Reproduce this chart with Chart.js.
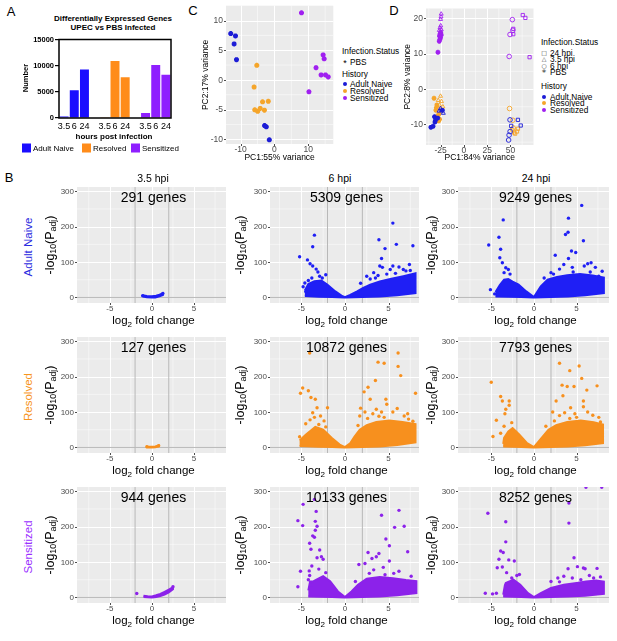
<!DOCTYPE html>
<html>
<head>
<meta charset="utf-8">
<script src="https://cdn.jsdelivr.net/npm/chart.js@4.4.1/dist/chart.umd.min.js"></script>
<style>
body { margin: 0; width: 617px; height: 641px; background: #fff; position: relative; overflow: hidden; font-family: "Liberation Sans", Arial, sans-serif; }
canvas { position: absolute; }
.t { position: absolute; white-space: nowrap; color: #000; line-height: 1; }
.c { transform: translate(-50%, -50%); }
.l { transform: translate(0, -50%); }
.r { transform: translate(-50%, -50%) rotate(-90deg); }
sub { font-size: 70%; vertical-align: -0.3em; line-height: 0; }
</style>
</head>
<body>
<script>
// ---------- data ----------
const hours = ['3.5', '6', '24'];
const groups = ['Adult Naive', 'Resolved', 'Sensitized'];
const naiveDEG = [291, 5309, 9249];
const resolvedDEG = [127, 10872, 7793];
const sensitizedDEG = [944, 10133, 8252];
const degTicks = [0, 5000, 10000, 15000];

// PCA of PBS samples (panel C)
const pbsNaivePC = [[-12.9, 7.8], [-11.5, 7.4], [-11.9, 6.05], [-11.2, 3.4], [-2.9, -7.7], [-2.4, -7.9], [-1.5, -10.1]];
const pbsResolvedPC = [[-5.2, 2.45], [-6.0, -1.2], [-3.5, -3.7], [-1.8, -3.6], [-5.8, -5.05], [-4.95, -5.3], [-4.2, -4.8], [-2.95, -5.1]];
const pbsSensitizedPC = [[8.0, 11.3], [14.4, 4.2], [14.7, 3.55], [12.3, 2.05], [13.8, 0.83], [15.1, 0.83], [15.9, 0.5], [10.2, -2.0]];
const cTicksX = [-10, 0, 10], cTicksY = [-10, -5, 0, 5, 10];

// PCA of all samples (panel D)
const naivePBS = [[-35.4, -10.8], [-33, -10.5], [-31, -9.3], [-30.5, -8.8], [-31.5, -7.8], [-28, -8.2], [-23, -6]];
const naive35 = [[-24, -6], [-22, -6.8], [-26.5, -6.2], [-25, -5.5]];
const naive6 = [[49.5, -8.7], [49.6, -12], [48.5, -13], [48, -14.4]];
const naive24 = [[58, -8.7], [61, -10.3], [50.8, -10.4]];
const resolvedPBS = [[-32, -2.6], [-29, -4.5], [-28, -7.5], [-26, -8.5], [-30, -6], [-27, -9], [-29.5, -5.3], [-26.5, -7]];
const resolved35 = [[-25, -2], [-24, -3.5], [-26, -4.5], [-22.5, -5], [-27, -5.5], [-24, -6.2], [-27.5, -3.2]];
const resolved6 = [[49, -5.5], [52.5, -8.8], [53, -11]];
const resolved24 = [[52, -11.5], [55, -12.6], [57, -12], [54, -12.3], [58, -11.2]];
const sensitizedPBS = [[-24.8, 16.0], [-25.5, 15.6], [-24.2, 15.3], [-26.2, 15.0], [-25, 14.5], [-25.8, 14.0], [-26.4, 13.5], [-27.8, 10.4]];
const sensitized35 = [[-24.3, 21.2], [-24.5, 20.4], [-25, 19.7], [-24.8, 17.9], [-25.6, 17.3], [-24.2, 16.8], [-26.3, 16.6]];
const sensitized6 = [[52, 19.6], [49.5, 15.4], [52.5, 16.6], [48.6, 9.2]];
const sensitized24 = [[63.2, 20.9], [66, 20.1], [53, 17.0], [53, 15.5], [70.5, 9.0]];
const dTicksX = [-25, 0, 25, 50], dTicksY = [-10, 0, 10, 20];

// volcano plots: dense cloud outline (top edge then bottom edge) + scattered genes
const volTicksX = [-5, 0, 5], volTicksY = [0, 100, 200, 300];
const foldCut = [-2, 2];
const naive35Cloud = [[-1.1, 6], [-0.6, 4], [0, 3.5], [0.5, 5], [0.9, 8], [1.3, 12], [1.3, 7], [0.9, 3], [0.4, 0], [0, 0], [-0.6, 0.5], [-1.1, 2.5]];
const naive35Out = [[1.3, 11], [-1.1, 5]];
const naive6Cloud = [[-4.6, 20], [-4.2, 38], [-3.5, 46], [-2.7, 48], [-2, 36], [-1.1, 17], [-0.4, 5], [0, 1], [0.6, 7], [1.4, 17], [2.1, 27], [2.9, 36], [4, 45], [5.2, 52], [6.7, 60], [8.1, 68], [8.1, 12], [6, 6], [4, 3], [2, 1], [0, 0], [-1.5, 1], [-3, 2], [-4.6, 4]];
const naive6Out = [[-5.2, 115], [-3.5, 176], [-3.7, 143], [-4.3, 106], [-4.0, 95], [-3.7, 89], [-3.3, 80], [-3.1, 72], [-4.6, 41], [-4.5, 17], [-4.8, 30], [-2.6, 55], [-2.2, 64], [-2.9, 60], [3.9, 163], [5.5, 210], [4.6, 138], [5.9, 150], [7.8, 146], [4.2, 110], [4, 89], [4.3, 85], [5.5, 89], [6.7, 79], [7.4, 93], [2.5, 60], [3.3, 70], [5.2, 79], [6.2, 86], [7, 75], [3.8, 62], [4.8, 66], [1.8, 40], [2.9, 52], [-3.8, 55], [-4.2, 48], [3.5, 55], [5.8, 68], [7.5, 76]];
const naive24Cloud = [[-4.5, 15], [-4, 35], [-3.5, 50], [-3, 52], [-2.5, 45], [-1.8, 36], [-0.9, 17], [0, 1], [0.8, 31], [1.6, 50], [2.7, 58], [3.9, 63], [5.4, 66], [6.9, 62], [8.2, 56], [8.2, 12], [6, 6], [4, 3], [2, 1], [0, 0], [-1.5, 1], [-3, 2], [-4.5, 3]];
const naive24Out = [[-5.3, 148], [-5.1, 22], [-4.1, 170], [-3.9, 136], [-3.6, 219], [-4, 112], [-3.7, 98], [-3.3, 84], [-3, 79], [-3.5, 70], [-2.8, 66], [-4.6, 10], [4.05, 224], [4, 184], [3.7, 178], [5.6, 260], [5.8, 160], [4.4, 131], [4.9, 127], [2.5, 119], [4.05, 110], [6.7, 98], [8, 74], [3.5, 93], [5.9, 89], [7.2, 85], [6.3, 95], [3, 80], [4.5, 85], [2, 70], [7.6, 60], [1.2, 55], [2.3, 66], [4.6, 72], [6.6, 72]];
const resolved35Cloud = [[-0.7, 3], [-0.3, 2], [0, 2], [0.4, 3], [0.8, 6], [0.8, 3], [0.4, 0.5], [0, 0], [-0.4, 0], [-0.7, 1]];
const resolved35Out = [[0.8, 5], [-0.6, 2]];
const resolved6Cloud = [[-5.2, 20], [-4.5, 36], [-3.4, 58], [-2.5, 50], [-1.5, 27], [-0.6, 8], [0, 1], [0.6, 12], [1.1, 31], [1.7, 50], [2.5, 63], [3.6, 72], [5.1, 76], [6.6, 72], [8.1, 66], [8.1, 14], [6, 7], [4, 3], [2, 1], [0, 0], [-1.5, 1], [-3, 2], [-5.2, 4]];
const resolved6Out = [[-4.05, 267], [-4.85, 168], [-5.1, 153], [-4.2, 160], [-3.9, 141], [-3.4, 136], [-3.2, 112], [-3.7, 98], [-2, 112], [-5.2, 30], [-4.5, 67], [-2.8, 89], [-3.5, 85], [-4, 78], [-2.4, 75], [3.8, 241], [4.5, 238], [6.1, 267], [6.4, 203], [6.1, 229], [3.5, 189], [2.65, 170], [2.2, 157], [2.9, 136], [4.7, 136], [8.1, 153], [3.6, 108], [4.8, 122], [1.7, 89], [6.8, 89], [7.8, 74], [2.3, 100], [3.2, 95], [4.2, 100], [5.5, 100], [6, 110], [7.2, 95], [2.6, 82], [3.9, 88], [1.8, 111], [-3, 65], [-2.2, 58], [1.5, 62], [4.5, 85], [7.3, 80]];
const resolved24Cloud = [[-3.6, 10], [-3.5, 27], [-3, 45], [-2.5, 55], [-1.7, 36], [-0.8, 12], [0, 1], [0.9, 27], [1.7, 50], [2.6, 63], [3.9, 72], [5.5, 76], [7, 71], [8.1, 65], [8.1, 12], [6, 6], [4, 3], [2, 1], [0, 0], [-1.5, 1], [-3.6, 3]];
const resolved24Out = [[-5, 184], [-3.9, 144], [-3.7, 131], [-2.9, 131], [-2.9, 119], [-3.3, 108], [-3.4, 95], [-4.4, 77], [-4.8, 31], [-3.5, 60], [-2.6, 70], [-3.9, 40], [3, 238], [4.2, 217], [5.3, 230], [5.6, 195], [6.2, 162], [7.4, 174], [3.3, 176], [3.9, 172], [4.7, 172], [3.4, 146], [2.6, 131], [5.8, 131], [5.8, 115], [4.3, 112], [6.9, 91], [3.6, 98], [2.2, 100], [3, 90], [4.8, 95], [6.3, 100], [7.6, 85], [5, 85], [1.4, 60], [2.4, 75], [4.2, 82], [7.8, 72]];
const sensitized35Cloud = [[-1, 5], [-0.5, 3.5], [0, 3], [0.5, 6], [1, 10], [1.5, 16], [2, 22], [2.5, 29], [2.5, 23], [2, 14], [1.5, 8], [1, 4], [0.5, 1], [0, 0], [-0.5, 0.5], [-1, 1.5]];
const sensitized35Out = [[-1.8, 11], [2.5, 30]];
const sensitized6Cloud = [[-4.2, 20], [-4, 45], [-3.6, 46], [-2.5, 60], [-1.7, 46], [-0.8, 17], [0, 1], [0.75, 17], [1.5, 36], [2.5, 53], [4, 58], [5.5, 54], [7, 49], [8.2, 46], [8.2, 12], [6, 6], [4, 3], [2, 1], [0, 0], [-1.5, 1], [-3, 2], [-4.2, 3]];
const sensitized6Out = [[-4.8, 263], [-5.4, 217], [-4.85, 203], [-3.5, 277], [-3.3, 243], [-3.4, 215], [-3.2, 201], [-3.4, 190], [-3.7, 174], [-3.5, 170], [-4.05, 153], [-3.9, 136], [-2.9, 134], [-2.7, 115], [-2.5, 108], [-3.2, 112], [-3.8, 89], [-4.05, 62], [-5.1, 74], [-5.4, 30], [-4.1, 75], [-3, 80], [-2.2, 70], [4.2, 232], [6.2, 246], [5.7, 198], [6.8, 201], [4.7, 165], [5.1, 146], [7.2, 129], [3.9, 124], [3.6, 115], [2.65, 127], [3.1, 110], [5.1, 103], [1.6, 93], [2.3, 96], [6.2, 74], [4.4, 85], [3.3, 78], [5.6, 68], [7.6, 60], [2.8, 68], [-4.2, 50], [-3.9, 35], [1.2, 45], [4.6, 64]];
const sensitized24Cloud = [[-3.6, 8], [-3.4, 35], [-3.3, 41], [-2.4, 50], [-1.6, 36], [-0.7, 12], [0, 1], [0.8, 12], [2, 27], [3.5, 36], [5, 41], [6.1, 45], [7.3, 48], [8.2, 45], [8.2, 10], [6, 5], [4, 3], [2, 1], [0, 0], [-1.5, 1], [-3.6, 3]];
const sensitized24Out = [[-5.4, 238], [-3.3, 214], [-3.3, 157], [-3.9, 131], [-3.6, 127], [-2.95, 106], [-2.3, 103], [-4.1, 108], [-4.3, 84], [-3.7, 86], [-3.2, 70], [-2, 62], [-1.7, 65], [-5.7, 12], [-4.85, 10], [-4.4, 12], [6.1, 311], [7.95, 311], [4.1, 267], [4.1, 210], [4.7, 112], [5.1, 87], [5.8, 83], [6, 81], [7.4, 82], [4, 81], [3.5, 60], [2.8, 55], [4.5, 55], [6.5, 62], [7.8, 58], [5.5, 50], [2, 45], [-2.6, 55], [3, 44], [7, 55]];

// ---------- setup ----------
Chart.defaults.font.family = '"Liberation Sans", Arial, sans-serif';
Chart.defaults.animation = false;
Chart.defaults.responsive = false;
Chart.defaults.plugins.legend.display = false;
Chart.defaults.plugins.tooltip.enabled = false;

const barColors = ['#1a0dff', '#ff8c1a', '#8f1fff'];
const pcaColors = ['#1c1cd6', '#f5a52a', '#a020f0'];
const volcColors = ['#1f1ff5', '#f7901e', '#8c22ea'];
const rowColors = ['#2b2be0', '#f7941d', '#9a30ff'];
const FONT = '"Liberation Sans", Arial, sans-serif';

function mkCanvas(x, y, w, h) {
  const c = document.createElement('canvas');
  c.width = w; c.height = h;
  c.style.left = x + 'px'; c.style.top = y + 'px';
  document.body.appendChild(c);
  return c;
}
function txt(html, x, y, cls, css) {
  const d = document.createElement('div');
  d.className = 't ' + cls;
  d.innerHTML = html;
  d.style.left = x + 'px'; d.style.top = y + 'px';
  Object.assign(d.style, css || {});
  document.body.appendChild(d);
  return d;
}
const pts = a => a.map(([x, y]) => ({ x, y }));

// ggplot look: grey panel, white major + minor grid, short grey ticks and labels,
// all placed through the chart's own x / y scales; optional axis titles
const ggPanel = {
  id: 'ggPanel',
  beforeDatasetsDraw(ch, args, o) {
    const a = ch.chartArea, g = ch.ctx, sx = ch.scales.x, sy = ch.scales.y;
    const seg = (x1, y1, x2, y2) => { g.beginPath(); g.moveTo(x1, y1); g.lineTo(x2, y2); g.stroke(); };
    const mids = t => { const st = t[1] - t[0]; return [t[0] - st / 2, ...t.map(v => v + st / 2)]; };
    const inX = v => v > sx.min && v < sx.max, inY = v => v > sy.min && v < sy.max;
    g.save();
    g.fillStyle = '#ebebeb'; g.fillRect(a.left, a.top, a.width, a.height);
    g.strokeStyle = '#ffffff';
    g.lineWidth = 0.5;
    mids(o.xTicks).filter(inX).forEach(v => { const p = sx.getPixelForValue(v); seg(p, a.top, p, a.bottom); });
    mids(o.yTicks).filter(inY).forEach(v => { const p = sy.getPixelForValue(v); seg(a.left, p, a.right, p); });
    g.lineWidth = 1;
    o.xTicks.filter(inX).forEach(v => { const p = Math.round(sx.getPixelForValue(v)) + 0.5; seg(p, a.top, p, a.bottom); });
    o.yTicks.filter(inY).forEach(v => { const p = Math.round(sy.getPixelForValue(v)) + 0.5; seg(a.left, p, a.right, p); });
    g.strokeStyle = '#4d4d4d';
    o.xTicks.forEach(v => { const p = Math.round(sx.getPixelForValue(v)) + 0.5; seg(p, a.bottom, p, a.bottom + 2); });
    o.yTicks.forEach(v => { const p = Math.round(sy.getPixelForValue(v)) + 0.5; seg(a.left - 2, p, a.left, p); });
    g.restore();
  },
  afterDraw(ch, args, o) {
    const a = ch.chartArea, g = ch.ctx, sx = ch.scales.x, sy = ch.scales.y;
    g.save();
    g.fillStyle = '#4d4d4d';
    g.font = o.size + 'px ' + FONT;
    g.textAlign = 'center'; g.textBaseline = 'middle';
    o.xTicks.forEach(v => g.fillText(String(v), sx.getPixelForValue(v), a.bottom + 5.5));
    g.textAlign = 'right';
    o.yTicks.forEach(v => g.fillText(String(v), a.left - 3, sy.getPixelForValue(v) + 0.5));
    if (o.xTitle) {
      g.fillStyle = '#000';
      g.font = o.titleSize + 'px ' + FONT;
      g.textAlign = 'center';
      g.fillText(o.xTitle, (a.left + a.right) / 2, a.bottom + o.xTitleGap);
      g.translate(a.left - o.yTitleGap, (a.top + a.bottom) / 2);
      g.rotate(-Math.PI / 2);
      g.fillText(o.yTitle, 0, 0);
    }
    g.restore();
  }
};

function ggAxis(min, max, fitSize, horizontal) {
  return {
    type: 'linear', min, max,
    ticks: { display: false },
    grid: { display: false },
    border: { display: false },
    afterFit: s => { if (horizontal) s.height = fitSize; else s.width = fitSize; }
  };
}

// ---------- panel labels ----------
txt('A', 11, 11, 'c', { fontSize: '13px' });
txt('C', 193, 10, 'c', { fontSize: '13px' });
txt('D', 394, 10, 'c', { fontSize: '13px' });
txt('B', 9, 177, 'c', { fontSize: '13px' });

// ---------- panel A ----------
txt('Differentially Expressed Genes', 113, 19, 'c', { fontSize: '8px', fontWeight: 'bold' });
txt('UPEC vs PBS Infected', 113, 28, 'c', { fontSize: '8px', fontWeight: 'bold' });

const degs = [naiveDEG, resolvedDEG, sensitizedDEG];
const barLabels = [...hours, '', ...hours, '', ...hours];
const frame = {
  id: 'frame',
  afterDraw(ch) {
    const a = ch.chartArea, g = ch.ctx;
    g.save(); g.strokeStyle = '#000'; g.lineWidth = 1.5; g.strokeRect(a.left, a.top, a.width, a.height); g.restore();
  }
};
new Chart(mkCanvas(20, 34, 155, 112), {
  type: 'bar',
  data: {
    labels: barLabels,
    datasets: groups.map((g, gi) => ({
      label: g,
      data: barLabels.map((_, k) => (Math.floor(k / 4) === gi && k % 4 < 3) ? degs[gi][k % 4] : null),
      backgroundColor: barColors[gi],
      barPercentage: 0.88,
      categoryPercentage: 1,
      grouped: false
    }))
  },
  options: {
    layout: { padding: { top: 4, right: 4 } },
    scales: {
      x: {
        grid: { display: false, drawTicks: false },
        border: { display: false },
        ticks: { autoSkip: false, maxRotation: 0, padding: 3, color: '#000', font: { size: 9 } },
        afterFit: s => { s.height = 28; }
      },
      y: {
        min: 0, max: 15000,
        afterBuildTicks: s => { s.ticks = degTicks.map(v => ({ value: v })); },
        ticks: { color: '#000', font: { size: 7.5, weight: 'bold' }, padding: 1, callback: v => String(v) },
        grid: { drawOnChartArea: false, tickLength: 4, color: '#000', lineWidth: 1.2 },
        border: { display: false },
        afterFit: s => { s.width = 39; }
      }
    }
  },
  plugins: [frame]
});
txt('Number', 26, 78, 'r', { fontSize: '7.5px', fontWeight: 'bold' });
txt('hours post infection', 114, 136.5, 'c', { fontSize: '8px', fontWeight: 'bold' });
const legA = [[22, 'Adult Naive'], [82, 'Resolved'], [131, 'Sensitized']];
legA.forEach(([x, name], i) => {
  txt('', x, 148, 'l', { width: '9px', height: '9px', background: barColors[i] });
  txt(name, x + 11, 148.5, 'l', { fontSize: '8px' });
});

// ---------- panel C ----------
function pcaLegendDot(x, y, color) {
  txt('', x, y, 'c', { width: '4px', height: '4px', borderRadius: '50%', background: color });
}
new Chart(mkCanvas(200, 0, 139, 164), {
  type: 'scatter',
  data: {
    datasets: [pbsNaivePC, pbsResolvedPC, pbsSensitizedPC].map((d, i) => ({
      label: groups[i], data: pts(d), pointStyle: 'star', pointRadius: 2.5,
      borderColor: pcaColors[i], backgroundColor: pcaColors[i], borderWidth: 1.7
    }))
  },
  options: {
    layout: { padding: { top: 2, right: 2 } },
    plugins: { ggPanel: { size: 8.5, xTicks: cTicksX, yTicks: cTicksY, titleSize: 8.5,
      xTitle: 'PC1:55% variance', yTitle: 'PC2:17% variance', xTitleGap: 14, yTitleGap: 20 } },
    scales: { x: ggAxis(-14.3, 17.4, 20, true), y: ggAxis(-10.8, 12.5, 26, false) }
  },
  plugins: [ggPanel]
});
txt('Infection.Status', 342, 51, 'l', { fontSize: '8.3px' });
txt('*', 345, 63, 'c', { fontSize: '9px' });
txt('PBS', 350, 62, 'l', { fontSize: '8.3px' });
txt('History', 342, 74, 'l', { fontSize: '8.3px' });
[84, 91, 98].forEach((y, i) => {
  pcaLegendDot(345, y, pcaColors[i]);
  txt(groups[i], 350, y, 'l', { fontSize: '8.3px' });
});

// ---------- panel D ----------
const dSets = [
  [naivePBS, naive35, naive6, naive24],
  [resolvedPBS, resolved35, resolved6, resolved24],
  [sensitizedPBS, sensitized35, sensitized6, sensitized24]
];
const dStyles = ['star', 'triangle', 'circle', 'rect'];
const dDatasets = [];
dSets.forEach((sets, gi) => sets.forEach((d, si) => dDatasets.push({
  label: groups[gi], data: pts(d), pointStyle: dStyles[si],
  pointRadius: si === 0 ? 2.4 : 2.3, borderWidth: si === 0 ? 1.5 : 0.9,
  borderColor: pcaColors[gi], backgroundColor: si === 0 ? pcaColors[gi] : 'rgba(0,0,0,0)'
})));
new Chart(mkCanvas(402, 3, 137, 162), {
  type: 'scatter',
  data: { datasets: dDatasets },
  options: {
    layout: { padding: { top: 2, right: 2 } },
    plugins: { ggPanel: { size: 8.5, xTicks: dTicksX, yTicks: dTicksY, titleSize: 8.5,
      xTitle: 'PC1:84% variance', yTitle: 'PC2:8% variance', xTitleGap: 13, yTitleGap: 18 } },
    scales: { x: ggAxis(-40.6, 74.7, 20, true), y: ggAxis(-15.8, 22.75, 24, false) }
  },
  plugins: [ggPanel]
});
txt('Infection.Status', 541, 42, 'l', { fontSize: '8.3px' });
const dLeg = [['\u25A1', '24 hpi', 52.5], ['\u25B3', '3.5 hpi', 59], ['\u25CB', '6 hpi', 65.5], ['*', 'PBS', 72]];
dLeg.forEach(([sym, name, y]) => {
  txt(sym, 544, sym === '*' ? y + 1 : y, 'c', { fontSize: sym === '*' ? '9px' : '6px', fontFamily: '"DejaVu Sans", sans-serif', color: '#333' });
  txt(name, 550, y, 'l', { fontSize: '8.3px' });
});
txt('History', 541, 86, 'l', { fontSize: '8.3px' });
[96.5, 103, 109.5].forEach((y, i) => {
  pcaLegendDot(544, y, pcaColors[i]);
  txt(groups[i], 550, y, 'l', { fontSize: '8.3px' });
});

// ---------- panel B (volcano grid) ----------
const colLeft = [77, 270, 458], colWidth = [153, 153, 155];
const colRange = [[-8.9, 8.8], [-8.6, 8.5], [-8.9, 8.8]];
const yTitleOffset = [27, 30, 27];
const rowTop = [187, 337, 487], plotH = 116;
const yMin = -15.7, yMax = 312;
const volcano = [
  [[naive35Cloud, naive35Out], [naive6Cloud, naive6Out], [naive24Cloud, naive24Out]],
  [[resolved35Cloud, resolved35Out], [resolved6Cloud, resolved6Out], [resolved24Cloud, resolved24Out]],
  [[sensitized35Cloud, sensitized35Out], [sensitized6Cloud, sensitized6Out], [sensitized24Cloud, sensitized24Out]]
];

const colTitles = hours.map(h => h + ' hpi');
[153, 340, 536].forEach((x, c) => txt(colTitles[c], x, 178, 'c', { fontSize: '10.5px' }));
groups.forEach((g, r) => txt(g, 29, rowTop[r] + 60, 'r', { fontSize: '11.5px', color: rowColors[r] }));

volcano.forEach((row, r) => row.forEach(([cloud, out], c) => {
  const color = volcColors[r];
  const [xMin, xMax] = colRange[c];
  const lines = [
    ...foldCut.map(v => ({ data: [{ x: v, y: yMin }, { x: v, y: yMax }] })),
    { data: [{ x: xMin, y: 0 }, { x: xMax, y: 0 }] }
  ].map(d => Object.assign(d, { showLine: true, borderColor: '#b8b8b8', borderWidth: 1, pointRadius: 0 }));
  new Chart(mkCanvas(colLeft[c] - 26, rowTop[r] - 6, colWidth[c] + 26, plotH + 6 + 13), {
    type: 'scatter',
    data: {
      datasets: [
        { data: pts(out), pointRadius: 1.7, borderWidth: 0, backgroundColor: color },
        { data: pts(cloud), showLine: true, fill: 'shape', tension: 0, pointRadius: 0, borderWidth: 2, borderColor: color, backgroundColor: color },
        ...lines
      ]
    },
    options: {
      layout: { padding: { top: 6 } },
      plugins: { ggPanel: { size: 8, xTicks: volTicksX, yTicks: volTicksY } },
      scales: { x: ggAxis(xMin, xMax, 13, true), y: ggAxis(yMin, yMax, 26, false) }
    },
    plugins: [ggPanel]
  });
  const cx = colLeft[c] + colWidth[c] / 2;
  txt(degs[r][c] + ' genes', cx, rowTop[r] + 10, 'c', { fontSize: '14px' });
  txt('log<sub>2</sub> fold change', cx, rowTop[r] + plotH + 18, 'c', { fontSize: '11.5px' });
  txt('-log<sub>10</sub>(P<sub>adj</sub>)', colLeft[c] - yTitleOffset[c], rowTop[r] + plotH / 2, 'r', { fontSize: '12.5px' });
}));
</script>
</body>
</html>
